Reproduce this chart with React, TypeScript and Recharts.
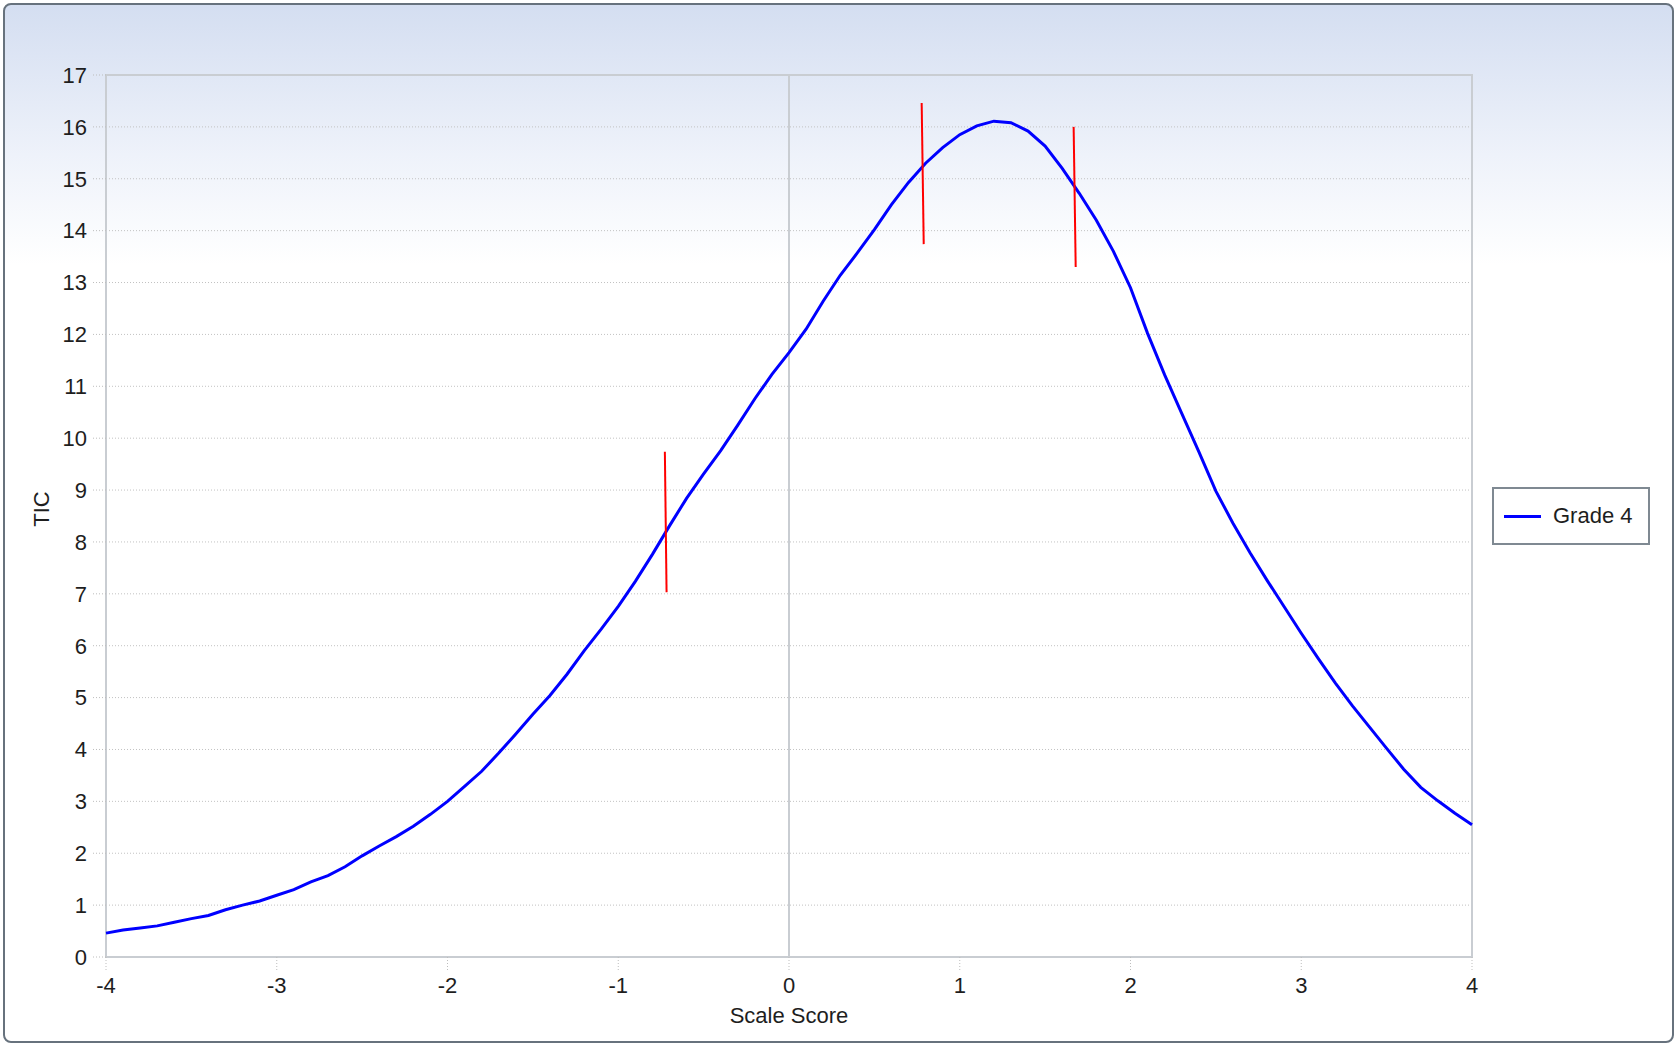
import React from 'react';
import {
  LineChart,
  Line,
  XAxis,
  YAxis,
  CartesianGrid,
  Legend,
  ReferenceLine,
  ReferenceArea,
  Label,
} from 'recharts';

// Test information curve for Grade 4, sampled every 0.1 on the scale score
const scaleScores = [
  -4.0, -3.9, -3.8, -3.7, -3.6, -3.5, -3.4, -3.3, -3.2, -3.1,
  -3.0, -2.9, -2.8, -2.7, -2.6, -2.5, -2.4, -2.3, -2.2, -2.1,
  -2.0, -1.9, -1.8, -1.7, -1.6, -1.5, -1.4, -1.3, -1.2, -1.1,
  -1.0, -0.9, -0.8, -0.7, -0.6, -0.5, -0.4, -0.3, -0.2, -0.1,
  0.0, 0.1, 0.2, 0.3, 0.4, 0.5, 0.6, 0.7, 0.8, 0.9,
  1.0, 1.1, 1.2, 1.3, 1.4, 1.5, 1.6, 1.7, 1.8, 1.9,
  2.0, 2.1, 2.2, 2.3, 2.4, 2.5, 2.6, 2.7, 2.8, 2.9,
  3.0, 3.1, 3.2, 3.3, 3.4, 3.5, 3.6, 3.7, 3.8, 3.9,
  4.0,
];

const ticGrade4 = [
  0.46, 0.52, 0.56, 0.60, 0.67, 0.74, 0.80, 0.91, 1.00, 1.08,
  1.19, 1.30, 1.45, 1.57, 1.74, 1.95, 2.14, 2.32, 2.52, 2.75,
  3.00, 3.29, 3.58, 3.93, 4.30, 4.68, 5.04, 5.45, 5.90, 6.32,
  6.76, 7.24, 7.76, 8.31, 8.84, 9.31, 9.76, 10.25, 10.76, 11.23,
  11.65, 12.10, 12.64, 13.14, 13.57, 14.02, 14.50, 14.93, 15.30, 15.60,
  15.85, 16.02, 16.11, 16.08, 15.92, 15.63, 15.20, 14.72, 14.20, 13.60,
  12.90, 12.02, 11.22, 10.48, 9.74, 8.98, 8.36, 7.79, 7.26, 6.75,
  6.24, 5.75, 5.28, 4.84, 4.43, 4.02, 3.62, 3.27, 3.01, 2.77,
  2.55,
];

const xTicks = [-4, -3, -2, -1, 0, 1, 2, 3, 4];
const yTicks = [0, 1, 2, 3, 4, 5, 6, 7, 8, 9, 10, 11, 12, 13, 14, 15, 16, 17];

// Cut score markers (red segments), top and bottom end of each
const markerTopX = [-0.727, 0.777, 1.667];
const markerTopY = [9.74, 16.46, 16.0];
const markerBottomX = [-0.717, 0.789, 1.679];
const markerBottomY = [7.03, 13.74, 13.3];

const data = scaleScores.map((score, i) => ({ score, tic: ticGrade4[i] }));

const textColor = '#1e1e1e';
const fontSize = 22;
const dotted = { stroke: '#bdbdbd', strokeDasharray: '1 2' };

const YTitle = (props: any) => {
  const vb = props.viewBox || { x: 36, y: 75, width: 70, height: 882 };
  const x = vb.x + 5;
  const y = vb.y + vb.height / 2 - 7;
  return (
    <text
      x={x}
      y={y}
      transform={`rotate(-90, ${x}, ${y})`}
      textAnchor="middle"
      dominantBaseline="central"
      fill={textColor}
      fontSize={fontSize}
    >
      TIC
    </text>
  );
};

const renderLegend = (props: any) => {
  const { payload = [] } = props;
  return (
    <div
      style={{
        width: 154,
        height: 54,
        border: '2px solid #7f8992',
        background: '#ffffff',
        display: 'flex',
        alignItems: 'center',
      }}
    >
      {payload.map((entry: any) => (
        <div key={entry.value} style={{ display: 'flex', alignItems: 'center' }}>
          <span
            style={{
              display: 'inline-block',
              width: 37,
              height: 3,
              background: entry.color,
              marginLeft: 10,
              marginRight: 12,
            }}
          />
          <span style={{ fontSize, color: textColor }}>{entry.value}</span>
        </div>
      ))}
    </div>
  );
};

const App: React.FC = () => {
  return (
    <div
      style={{
        position: 'absolute',
        left: 0,
        top: 0,
        width: 1678,
        height: 1048,
        background: '#ffffff',
        fontFamily: '"Liberation Sans", Arial, sans-serif',
      }}
    >
      <div
        style={{
          position: 'absolute',
          left: 3,
          top: 3,
          width: 1667,
          height: 1036,
          border: '2px solid #67727d',
          borderRadius: 8,
          background: 'linear-gradient(to bottom, #d4def1 0px, #eef2fa 150px, #ffffff 260px)',
        }}
      />
      <div style={{ position: 'absolute', left: 0, top: 0 }}>
        <LineChart
          width={1678}
          height={1048}
          data={data}
          margin={{ top: 75, right: 206, bottom: 21, left: 36 }}
        >
          <CartesianGrid vertical={false} stroke="#c2c2c2" strokeDasharray="1 2" />
          <XAxis
            dataKey="score"
            type="number"
            domain={[-4, 4]}
            ticks={xTicks}
            interval={0}
            axisLine={false}
            tickLine={dotted}
            tickSize={13}
            tickMargin={7}
            tick={{ fill: textColor, fontSize }}
            height={70}
          >
            <Label value="Scale Score" position="insideBottom" offset={4} fill={textColor} fontSize={fontSize} />
          </XAxis>
          <YAxis
            type="number"
            domain={[0, 17]}
            ticks={yTicks}
            interval={0}
            axisLine={false}
            tickLine={dotted}
            tickSize={13}
            tickMargin={6}
            tick={{ fill: textColor, fontSize }}
            width={70}
          >
            <Label content={YTitle} />
          </YAxis>
          <ReferenceArea
            x1={-4}
            x2={4}
            y1={0}
            y2={17}
            fill="none"
            fillOpacity={0}
            stroke="#c9cdd2"
            strokeWidth={2}
          />
          <ReferenceLine x={0} stroke="#c9cdd2" strokeWidth={2} />
          <Legend
            layout="horizontal"
            align="center"
            verticalAlign="middle"
            content={renderLegend}
            wrapperStyle={{ left: 1492, top: 487, width: 158, height: 58 }}
          />
          <Line
            type="linear"
            dataKey="tic"
            name="Grade 4"
            stroke="#0000ff"
            strokeWidth={3}
            dot={false}
            activeDot={false}
            isAnimationActive={false}
          />
          {markerTopX.map((tx, i) => (
            <ReferenceLine
              key={`cut-${i}`}
              segment={[
                { x: tx, y: markerTopY[i] },
                { x: markerBottomX[i], y: markerBottomY[i] },
              ]}
              stroke="#ff0000"
              strokeWidth={2}
            />
          ))}
        </LineChart>
      </div>
    </div>
  );
};

export default App;
